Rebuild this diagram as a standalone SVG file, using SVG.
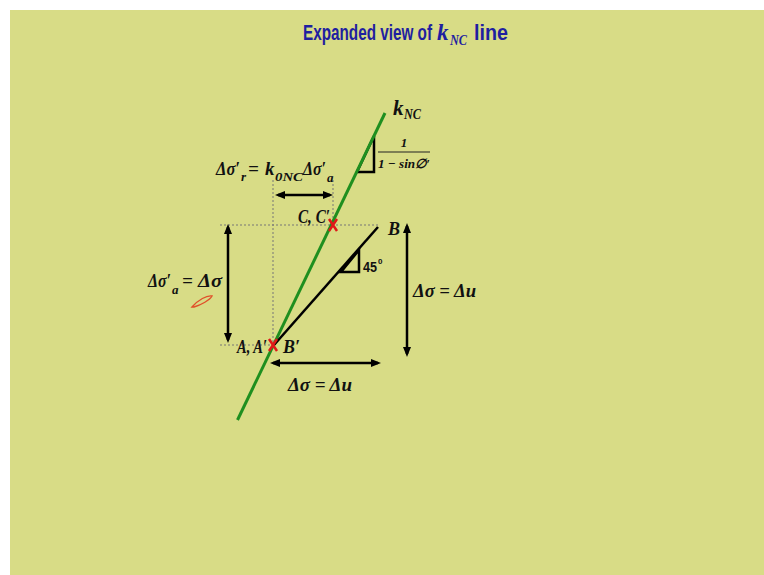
<svg xmlns="http://www.w3.org/2000/svg" width="764" height="575" viewBox="0 0 764 575">
<defs>
<marker id="ah" viewBox="0 0 10 8" refX="7" refY="4" markerWidth="10" markerHeight="8" markerUnits="userSpaceOnUse" orient="auto-start-reverse">
<path d="M0,0 L10,4 L0,8 z" fill="#000"/>
</marker>
<style>
.m{font-family:"Liberation Serif",serif;font-style:italic;font-weight:bold;fill:#111}
.dot{stroke:#777;stroke-width:1;stroke-dasharray:2 2;fill:none}
.arr{stroke:#000;stroke-width:2.5;fill:none;marker-start:url(#ah);marker-end:url(#ah)}
.blk{stroke:#000;stroke-width:2.5;fill:none;stroke-linejoin:miter}
.x{stroke:#e01818;stroke-width:2.5;fill:none}
.t{font-family:"Liberation Sans Narrow","Liberation Sans",sans-serif;font-weight:bold;fill:#1f1fa0}
.ti{font-family:"Liberation Serif",serif;font-style:italic;font-weight:bold;fill:#1f1fa0}
</style>
</defs>
<rect width="764" height="575" fill="#ffffff"/>
<rect x="10" y="10" width="754" height="565" fill="#d8dc86"/>

<g id="title">
<text class="t" x="303" y="40" font-size="22" textLength="129" lengthAdjust="spacingAndGlyphs">Expanded view of</text>
<text class="ti" x="437" y="40" font-size="23">k</text>
<text class="ti" x="450" y="45" font-size="15" textLength="17" lengthAdjust="spacingAndGlyphs">NC</text>
<text class="t" x="474" y="40" font-size="22" textLength="34" lengthAdjust="spacingAndGlyphs">line</text>
</g>

<g id="connectors">
<path class="dot" d="M220,225 H378 M220,345 H273 M273,180 V345 M333,180 V225"/>
<path class="arr" d="M278,195 H330"/>
<path class="arr" d="M228,227 V340"/>
<path class="arr" d="M407,226 V354"/>
<path class="arr" d="M273,363 H378"/>
</g>

<g id="slope-knc">
<path class="blk" d="M374,136 V172 H357 Z"/>
<text class="m" x="404" y="147" font-size="13" text-anchor="middle" font-weight="normal">1</text>
<path d="M378,152 H430" stroke="#222" stroke-width="1.2"/>
<text class="m" x="378" y="168" font-size="13" font-weight="normal" textLength="52" lengthAdjust="spacingAndGlyphs">1 − sin∅′</text>
</g>

<g id="knc-line">
<path d="M237.5,420 L385,113" stroke="#1f8f1f" stroke-width="3" fill="none"/>
<text class="m" x="393" y="115" font-size="21">k</text>
<text class="m" x="404" y="119" font-size="14" textLength="17" lengthAdjust="spacingAndGlyphs">NC</text>
</g>

<g id="stress-path">
<path d="M274,345 L378,227" stroke="#000" stroke-width="2.5" fill="none"/>
<path class="blk" d="M359,250 V272 H341 Z"/>
<text x="363" y="272" font-family="'Liberation Sans Narrow','Liberation Sans',sans-serif" font-weight="bold" font-size="14" fill="#111" textLength="14" lengthAdjust="spacingAndGlyphs">45</text>
<text x="378" y="264" font-family="'Liberation Sans',sans-serif" font-weight="bold" font-size="8" fill="#111">0</text>
</g>

<g id="point-A">
<path class="x" d="M269,339 L277,351 M277,339 L269,351"/>
<text class="m" x="237" y="353" font-size="18" textLength="30" lengthAdjust="spacingAndGlyphs">A, A′</text>
<text class="m" x="283" y="353" font-size="18" textLength="17" lengthAdjust="spacingAndGlyphs">B′</text>
</g>

<g id="point-C">
<path class="x" d="M329,219 L337,231 M337,219 L329,231"/>
<text class="m" x="298" y="223" font-size="18" textLength="32" lengthAdjust="spacingAndGlyphs">C, C′</text>
</g>

<g id="point-B">
<text class="m" x="388" y="235" font-size="18">B</text>
</g>

<g id="labels">
<text class="m" y="175" font-size="19"><tspan x="216" textLength="24" lengthAdjust="spacingAndGlyphs">Δσ′</tspan><tspan x="241" y="181" font-size="13">r</tspan><tspan x="248" y="175">=</tspan><tspan x="265">k</tspan><tspan x="275" y="181" font-size="13" textLength="28" lengthAdjust="spacingAndGlyphs">0NC</tspan><tspan x="303" y="175" textLength="23" lengthAdjust="spacingAndGlyphs">Δσ′</tspan><tspan x="327" y="182" font-size="13">a</tspan></text>
<text class="m" y="287" font-size="19"><tspan x="148" textLength="23" lengthAdjust="spacingAndGlyphs">Δσ′</tspan><tspan x="172" y="294" font-size="13">a</tspan><tspan x="182" y="287">=</tspan><tspan x="198" textLength="24" lengthAdjust="spacingAndGlyphs">Δσ</tspan></text>
<text class="m" x="413" y="297" font-size="19" textLength="63" lengthAdjust="spacingAndGlyphs">Δσ = Δu</text>
<text class="m" x="288" y="391" font-size="19" textLength="64" lengthAdjust="spacingAndGlyphs">Δσ = Δu</text>
</g>

<g id="scribble">
<path d="M192,307 C198,300 207,295 212,296 C210,300 201,305 194,307 Z" fill="none" stroke="#e0502a" stroke-width="1.4"/>
</g>
</svg>
